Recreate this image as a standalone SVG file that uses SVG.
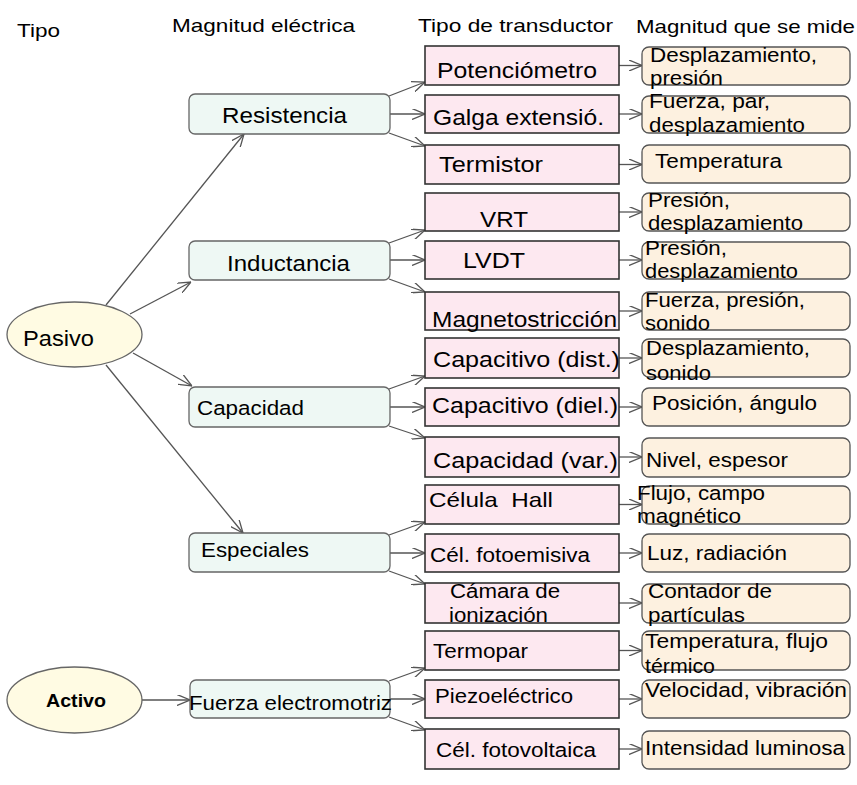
<svg xmlns="http://www.w3.org/2000/svg" width="857" height="785" viewBox="0 0 857 785">
<defs>
<marker id="ah" viewBox="0 0 13 11" refX="13" refY="5.5" markerWidth="13" markerHeight="11" markerUnits="userSpaceOnUse" orient="auto">
<path d="M0,0 L13,5.5 L0,11" fill="none" stroke="#555" stroke-width="1.3"/>
</marker>
<style>
text{font-family:"Liberation Sans",Arial,sans-serif;fill:#000}
.hd{font-size:19px}
.el{fill:#fffbe3;stroke:#666;stroke-width:1.3}
.mg{fill:#eef8f4;stroke:#666;stroke-width:1.3}
.tr{fill:#fde8f0;stroke:#333;stroke-width:1.6}
.me{fill:#fdf1e0;stroke:#555;stroke-width:1.3}
.t22{font-size:22px}
.t21{font-size:21px}
.t20{font-size:20.5px}
.t19{font-size:19.5px}
.cn line{stroke:#555;stroke-width:1.3;marker-end:url(#ah)}
</style>
</defs>
<rect width="857" height="785" fill="#fff"/>

<g id="headers">
<text class="hd" x="17" y="37" textLength="43" lengthAdjust="spacingAndGlyphs">Tipo</text>
<text class="hd" x="172" y="32" textLength="183" lengthAdjust="spacingAndGlyphs">Magnitud eléctrica</text>
<text class="hd" x="418" y="32" textLength="195" lengthAdjust="spacingAndGlyphs">Tipo de transductor</text>
<text class="hd" x="636" y="33" textLength="219" lengthAdjust="spacingAndGlyphs">Magnitud que se mide</text>
</g>

<g class="cn" id="connectors">
<line x1="106" y1="305" x2="244" y2="134"/>
<line x1="130" y1="314" x2="191" y2="282"/>
<line x1="133" y1="353" x2="192" y2="386"/>
<line x1="106" y1="365" x2="243" y2="533"/>
<line x1="142" y1="700" x2="190" y2="700"/>

<line x1="389" y1="96" x2="425" y2="82"/>
<line x1="390" y1="114" x2="425" y2="114"/>
<line x1="389" y1="133" x2="425" y2="146"/>
<line x1="389" y1="243" x2="425" y2="230"/>
<line x1="390" y1="260" x2="425" y2="260"/>
<line x1="389" y1="279" x2="425" y2="292"/>
<line x1="389" y1="389" x2="425" y2="376"/>
<line x1="390" y1="407" x2="425" y2="407"/>
<line x1="389" y1="426" x2="425" y2="438"/>
<line x1="389" y1="535" x2="425" y2="522"/>
<line x1="390" y1="553" x2="425" y2="553"/>
<line x1="389" y1="571" x2="425" y2="584"/>
<line x1="389" y1="681" x2="425" y2="668"/>
<line x1="390" y1="699" x2="425" y2="699"/>
<line x1="389" y1="717" x2="425" y2="730"/>

<line x1="619" y1="65.5" x2="642" y2="65.5"/>
<line x1="619" y1="114" x2="642" y2="114"/>
<line x1="619" y1="164.5" x2="642" y2="164.5"/>
<line x1="619" y1="212" x2="642" y2="212"/>
<line x1="619" y1="260" x2="642" y2="260"/>
<line x1="619" y1="311" x2="642" y2="311"/>
<line x1="619" y1="358" x2="642" y2="358"/>
<line x1="619" y1="407" x2="642" y2="407"/>
<line x1="619" y1="457" x2="642" y2="457"/>
<line x1="619" y1="504.5" x2="642" y2="504.5"/>
<line x1="619" y1="553" x2="642" y2="553"/>
<line x1="619" y1="603" x2="642" y2="603"/>
<line x1="619" y1="650.5" x2="642" y2="650.5"/>
<line x1="619" y1="699" x2="642" y2="699"/>
<line x1="619" y1="749" x2="642" y2="749"/>
</g>

<g id="pasivo"><ellipse class="el" cx="74.5" cy="334.5" rx="67.5" ry="32.5"/><text class="t22" x="23" y="346" textLength="71" lengthAdjust="spacingAndGlyphs">Pasivo</text></g>
<g id="activo"><ellipse class="el" cx="74.5" cy="700" rx="67.5" ry="33"/><text x="46" y="707" style="font-size:19px;font-weight:bold" textLength="60" lengthAdjust="spacingAndGlyphs">Activo</text></g>

<g id="resistencia"><rect class="mg" x="189" y="94" width="201" height="40" rx="6"/><text class="t22" x="222" y="123" textLength="125" lengthAdjust="spacingAndGlyphs">Resistencia</text></g>
<g id="inductancia"><rect class="mg" x="189" y="241" width="201" height="39" rx="6"/><text class="t22" x="227" y="271" textLength="123" lengthAdjust="spacingAndGlyphs">Inductancia</text></g>
<g id="capacidad"><rect class="mg" x="189" y="387" width="201" height="40" rx="6"/><text class="t20" x="197" y="415" textLength="107" lengthAdjust="spacingAndGlyphs">Capacidad</text></g>
<g id="especiales"><rect class="mg" x="189" y="533" width="201" height="39" rx="6"/><text class="t20" x="201" y="557" textLength="108" lengthAdjust="spacingAndGlyphs">Especiales</text></g>
<g id="fem"><rect class="mg" x="190" y="680" width="200" height="38" rx="6"/><text class="t20" x="189" y="710" textLength="203" lengthAdjust="spacingAndGlyphs">Fuerza electromotriz</text></g>

<g id="potenciometro"><rect class="tr" x="425" y="46" width="194" height="39"/><text class="t22" x="437" y="78" textLength="160" lengthAdjust="spacingAndGlyphs">Potenciómetro</text></g>
<g id="galga"><rect class="tr" x="425" y="95" width="194" height="38"/><text class="t22" x="433" y="125" textLength="171" lengthAdjust="spacingAndGlyphs">Galga extensió.</text></g>
<g id="termistor"><rect class="tr" x="425" y="145" width="194" height="39"/><text class="t22" x="439" y="172" textLength="104" lengthAdjust="spacingAndGlyphs">Termistor</text></g>
<g id="vrt"><rect class="tr" x="425" y="193" width="194" height="38"/><text class="t22" x="480" y="227" textLength="48" lengthAdjust="spacingAndGlyphs">VRT</text></g>
<g id="lvdt"><rect class="tr" x="425" y="241" width="194" height="38"/><text class="t22" x="463" y="268" textLength="62" lengthAdjust="spacingAndGlyphs">LVDT</text></g>
<g id="magneto"><rect class="tr" x="425" y="292" width="194" height="38"/><text class="t22" x="432" y="327" textLength="185" lengthAdjust="spacingAndGlyphs">Magnetostricción</text></g>
<g id="capdist"><rect class="tr" x="425" y="338" width="194" height="40"/><text class="t22" x="433" y="367" textLength="187" lengthAdjust="spacingAndGlyphs">Capacitivo (dist.)</text></g>
<g id="capdiel"><rect class="tr" x="425" y="388" width="194" height="38"/><text class="t22" x="432" y="413" textLength="186" lengthAdjust="spacingAndGlyphs">Capacitivo (diel.)</text></g>
<g id="capvar"><rect class="tr" x="425" y="437" width="194" height="40"/><text class="t22" x="433" y="468" textLength="185" lengthAdjust="spacingAndGlyphs">Capacidad (var.)</text></g>
<g id="hall"><rect class="tr" x="425" y="485" width="194" height="39"/><text class="t21" x="429" y="507" textLength="124" lengthAdjust="spacingAndGlyphs" xml:space="preserve">Célula  Hall</text></g>
<g id="fotoemisiva"><rect class="tr" x="425" y="534" width="194" height="38"/><text class="t19" x="430" y="562" textLength="160" lengthAdjust="spacingAndGlyphs">Cél. fotoemisiva</text></g>
<g id="camara"><rect class="tr" x="425" y="583" width="194" height="40"/><text class="t19" x="450" y="598" textLength="110" lengthAdjust="spacingAndGlyphs">Cámara de</text><text class="t19" x="449" y="622" textLength="99" lengthAdjust="spacingAndGlyphs">ionización</text></g>
<g id="termopar"><rect class="tr" x="425" y="631" width="194" height="39"/><text class="t20" x="433" y="658" textLength="95" lengthAdjust="spacingAndGlyphs">Termopar</text></g>
<g id="piezo"><rect class="tr" x="425" y="680" width="194" height="38"/><text class="t20" x="435" y="703" textLength="138" lengthAdjust="spacingAndGlyphs">Piezoeléctrico</text></g>
<g id="fotovoltaica"><rect class="tr" x="425" y="729" width="194" height="40"/><text class="t20" x="436" y="757" textLength="160" lengthAdjust="spacingAndGlyphs">Cél. fotovoltaica</text></g>

<g id="m1"><rect class="me" x="642" y="47" width="208" height="38" rx="7"/><text class="t20" x="650" y="62" textLength="167" lengthAdjust="spacingAndGlyphs">Desplazamiento,</text><text class="t20" x="650" y="85" textLength="73" lengthAdjust="spacingAndGlyphs">presión</text></g>
<g id="m2"><rect class="me" x="642" y="96" width="208" height="37" rx="7"/><text class="t20" x="649" y="108" textLength="121" lengthAdjust="spacingAndGlyphs">Fuerza, par,</text><text class="t20" x="649" y="132" textLength="156" lengthAdjust="spacingAndGlyphs">desplazamiento</text></g>
<g id="m3"><rect class="me" x="642" y="145" width="208" height="38" rx="7"/><text class="t20" x="655" y="168" textLength="127" lengthAdjust="spacingAndGlyphs">Temperatura</text></g>
<g id="m4"><rect class="me" x="642" y="193" width="208" height="38" rx="7"/><text class="t20" x="648" y="207" textLength="82" lengthAdjust="spacingAndGlyphs">Presión,</text><text class="t20" x="648" y="230" textLength="155" lengthAdjust="spacingAndGlyphs">desplazamiento</text></g>
<g id="m5"><rect class="me" x="642" y="242" width="208" height="37" rx="7"/><text class="t20" x="645" y="255" textLength="82" lengthAdjust="spacingAndGlyphs">Presión,</text><text class="t20" x="645" y="278" textLength="153" lengthAdjust="spacingAndGlyphs">desplazamiento</text></g>
<g id="m6"><rect class="me" x="642" y="292" width="208" height="38" rx="7"/><text class="t20" x="645" y="307" textLength="160" lengthAdjust="spacingAndGlyphs">Fuerza, presión,</text><text class="t20" x="645" y="330" textLength="65" lengthAdjust="spacingAndGlyphs">sonido</text></g>
<g id="m7"><rect class="me" x="642" y="339" width="208" height="38" rx="7"/><text class="t20" x="646" y="355" textLength="164" lengthAdjust="spacingAndGlyphs">Desplazamiento,</text><text class="t20" x="646" y="380" textLength="65" lengthAdjust="spacingAndGlyphs">sonido</text></g>
<g id="m8"><rect class="me" x="642" y="388" width="208" height="38" rx="7"/><text class="t20" x="652" y="410" textLength="165" lengthAdjust="spacingAndGlyphs">Posición, ángulo</text></g>
<g id="m9"><rect class="me" x="642" y="438" width="208" height="39" rx="7"/><text class="t20" x="646" y="467" textLength="142" lengthAdjust="spacingAndGlyphs">Nivel, espesor</text></g>
<g id="m10"><rect class="me" x="642" y="486" width="208" height="38" rx="7"/><text class="t20" x="637" y="500" textLength="128" lengthAdjust="spacingAndGlyphs">Flujo, campo</text><text class="t20" x="637" y="523" textLength="104" lengthAdjust="spacingAndGlyphs">magnético</text></g>
<g id="m11"><rect class="me" x="642" y="534" width="208" height="38" rx="7"/><text class="t20" x="647" y="560" textLength="140" lengthAdjust="spacingAndGlyphs">Luz, radiación</text></g>
<g id="m12"><rect class="me" x="642" y="584" width="208" height="39" rx="7"/><text class="t20" x="648" y="598" textLength="124" lengthAdjust="spacingAndGlyphs">Contador de</text><text class="t20" x="648" y="622" textLength="97" lengthAdjust="spacingAndGlyphs">partículas</text></g>
<g id="m13"><rect class="me" x="642" y="631" width="208" height="39" rx="7"/><text class="t20" x="645" y="648" textLength="183" lengthAdjust="spacingAndGlyphs">Temperatura, flujo</text><text class="t20" x="645" y="673" textLength="70" lengthAdjust="spacingAndGlyphs">térmico</text></g>
<g id="m14"><rect class="me" x="642" y="680" width="208" height="38" rx="7"/><text class="t20" x="645" y="697" textLength="202" lengthAdjust="spacingAndGlyphs">Velocidad, vibración</text></g>
<g id="m15"><rect class="me" x="642" y="731" width="208" height="38" rx="7"/><text class="t20" x="645" y="755" textLength="200" lengthAdjust="spacingAndGlyphs">Intensidad luminosa</text></g>
</svg>
